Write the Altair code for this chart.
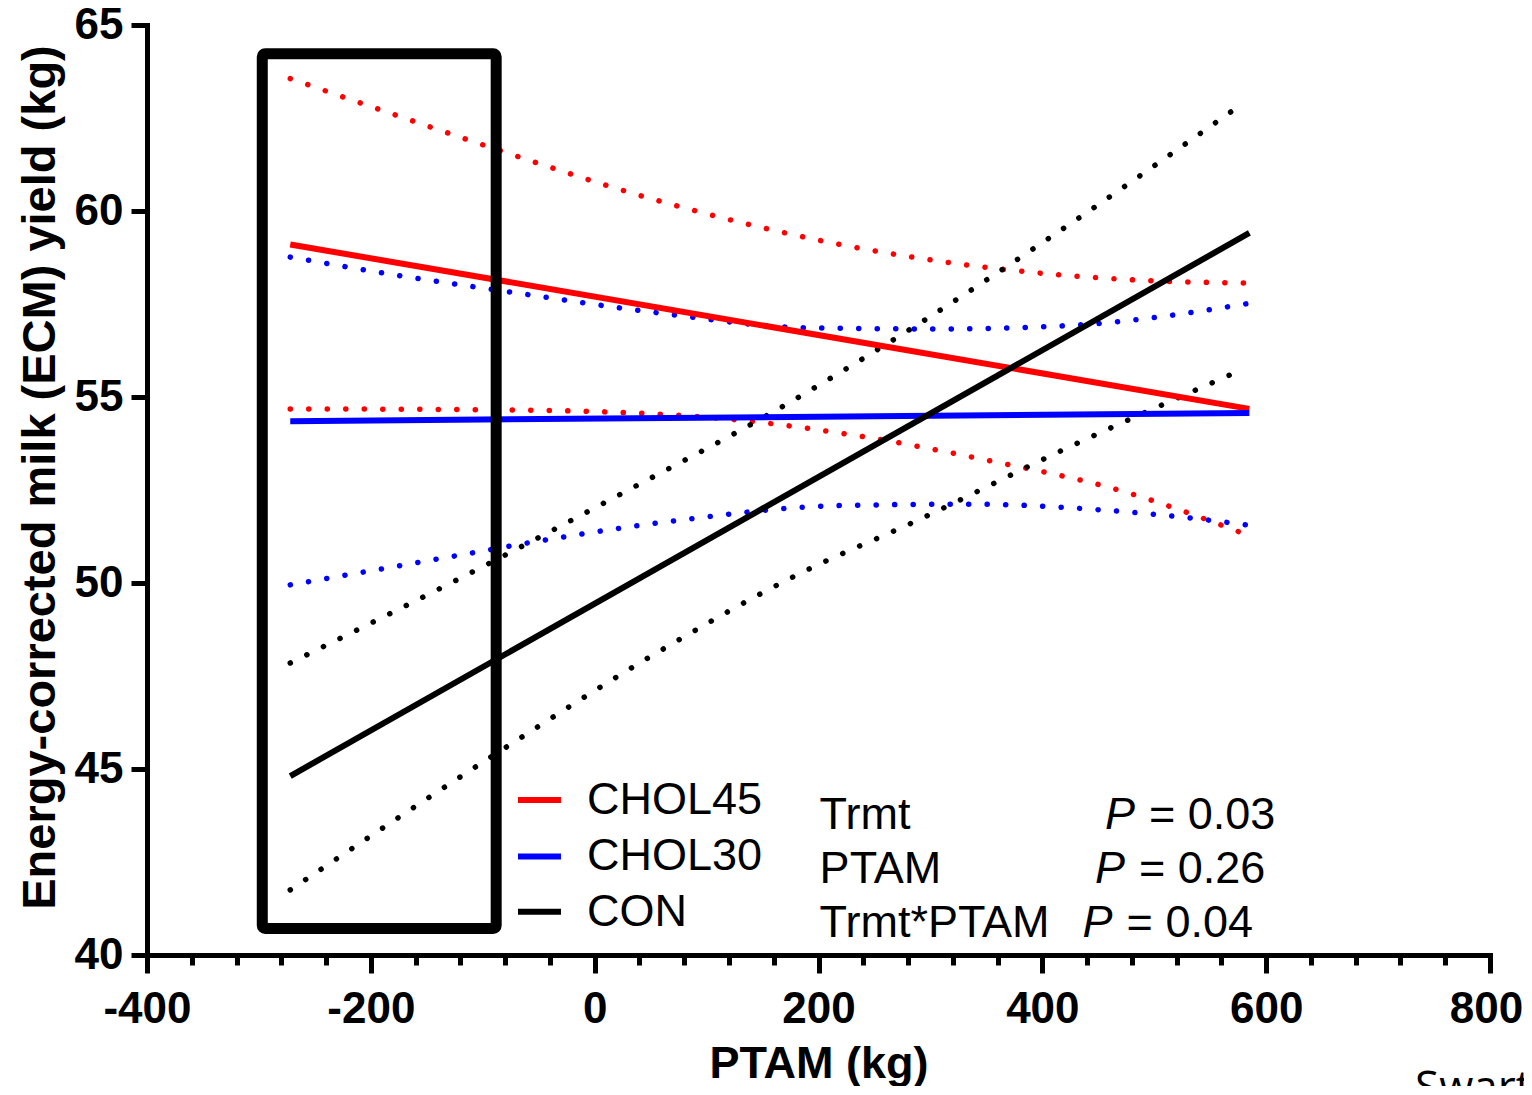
import altair as alt
import pandas as pd

# ---------------- data ----------------
series = ["CHOL45", "CHOL30", "CON"]
colors = ["#FF0000", "#0000FF", "#000000"]

fit_x = [-272, 585]
fit_y = {
    "CHOL45": [59.10, 54.68],
    "CHOL30": [54.35, 54.57],
    "CON": [44.81, 59.41],
}

chol45_upper_x = [-272, -178, -99, 60, 221, 354, 468, 585]
chol45_upper_y = [63.56, 62.58, 61.77, 60.25, 59.09, 58.47, 58.17, 58.06]
chol45_lower_x = [-272, -73, 94, 226, 354, 468, 585]
chol45_lower_y = [54.68, 54.65, 54.47, 54.00, 53.28, 52.50, 51.27]

chol30_upper_x = [-272, -178, -75, 57, 190, 308, 423, 571, 585]
chol30_upper_y = [58.76, 58.28, 57.82, 57.26, 56.86, 56.83, 56.92, 57.45, 57.52]
chol30_lower_x = [-272, -98, -59, 71, 217, 336, 455, 570, 585]
chol30_lower_y = [49.95, 50.87, 51.08, 51.67, 52.08, 52.12, 51.96, 51.61, 51.55]

con_upper_x = [-272, -98, 32, 156, 285, 409, 572]
con_upper_y = [47.85, 50.47, 52.53, 54.54, 56.88, 59.33, 62.74]
con_lower_x = [-272, -81, 43, 187, 286, 420, 572]
con_lower_y = [41.75, 45.55, 47.90, 50.31, 51.65, 53.60, 55.65]

box_x = [-297]
box_x2 = [-88]
box_y = [64.23]
box_y2 = [40.71]

legend_x = [-68.5]
legend_x2 = [-30.1]
legend_label_x = [-6.9]
legend_row_y = [44.17, 42.65, 41.16]

stat_terms = ["Trmt", "PTAM", "Trmt*PTAM"]
stat_values = ["= 0.03", "= 0.26", "= 0.04"]
stat_row_y = [43.76, 42.32, 40.86]
stat_term_x = [201, 201, 201]
stat_p_x = [456, 447, 436]

credit_text = ["Swart"]
credit_x = [733]
credit_y = [36.05]

x_major = [-400, -200, 0, 200, 400, 600, 800]
x_minor_step = 20
y_ticks = [40, 45, 50, 55, 60, 65]

# ---------------- tables ----------------
fit_rows = []
for s in series:
    for xv, yv in zip(fit_x, fit_y[s]):
        fit_rows.append({"series": s, "x": xv, "y": yv})
fit_df = pd.DataFrame(fit_rows)

band_rows = []
bands = {
    ("CHOL45", "upper"): (chol45_upper_x, chol45_upper_y),
    ("CHOL45", "lower"): (chol45_lower_x, chol45_lower_y),
    ("CHOL30", "upper"): (chol30_upper_x, chol30_upper_y),
    ("CHOL30", "lower"): (chol30_lower_x, chol30_lower_y),
    ("CON", "upper"): (con_upper_x, con_upper_y),
    ("CON", "lower"): (con_lower_x, con_lower_y),
}
for (s, b), (xs, ys) in bands.items():
    for xv, yv in zip(xs, ys):
        band_rows.append({"series": s, "band": s + "_" + b, "x": xv, "y": yv})
band_df = pd.DataFrame(band_rows)

box_df = pd.DataFrame({"x": box_x, "x2": box_x2, "y": box_y, "y2": box_y2})
legend_df = pd.DataFrame({
    "series": series, "y": legend_row_y,
    "x": legend_x * 3, "x2": legend_x2 * 3, "lx": legend_label_x * 3,
})
stat_df = pd.DataFrame({
    "term": stat_terms, "val": stat_values, "y": stat_row_y,
    "tx": stat_term_x, "px": stat_p_x, "p": ["P", "P", "P"],
})
credit_df = pd.DataFrame({"t": credit_text, "x": credit_x, "y": credit_y})

FONT = "Liberation Sans"

xscale = alt.Scale(domain=[-400, 800], nice=False, zero=False)
yscale = alt.Scale(domain=[40, 65], nice=False, zero=False)
cscale = alt.Scale(domain=series, range=colors)

major_test = "indexof([" + ",".join(str(v) for v in x_major) + "], datum.value) >= 0"
last_test = "datum.value === " + str(x_major[-1])

x_axis = alt.Axis(
    values=list(range(x_major[0], x_major[-1] + 1, x_minor_step)),
    labelExpr="(" + major_test + ") ? ('' + datum.value) : ''",
    tickSize={"condition": {"test": major_test, "value": 18}, "value": 10},
    labelOffset={"condition": {"test": last_test, "value": -4}, "value": 0},
    tickWidth=5, tickColor="black", domainWidth=5, domainColor="black", domainCap="square",
    labelFont=FONT, labelFontSize=44, labelFontWeight="bold", labelColor="black",
    labelPadding=14, labelOverlap=False, labelFlush=False,
    title="PTAM (kg)", titleFont=FONT, titleFontSize=45, titleFontWeight="bold",
    titleColor="black", titlePadding=10, grid=False,
)
y_axis = alt.Axis(
    values=y_ticks,
    tickSize=16, tickWidth=5, tickColor="black", domainWidth=5, domainColor="black",
    domainCap="square",
    labelFont=FONT, labelFontSize=44, labelFontWeight="bold", labelColor="black",
    labelPadding=8, labelOverlap=False, labelFlush=False,
    title="Energy-corrected milk (ECM) yield (kg)", titleFont=FONT, titleFontSize=47,
    titleFontWeight="bold", titleColor="black", titlePadding=10, titleY=452, grid=False,
)

fit = alt.Chart(fit_df).mark_line(strokeWidth=6, strokeCap="butt").encode(
    x=alt.X("x:Q", scale=xscale, axis=x_axis),
    y=alt.Y("y:Q", scale=yscale, axis=y_axis),
    color=alt.Color("series:N", scale=cscale, legend=None),
)

band = alt.Chart(band_df).mark_line(
    strokeWidth=5.5, strokeDash=[0.1, 18.4], strokeCap="round", interpolate="monotone"
).encode(
    x="x:Q", y="y:Q",
    color=alt.Color("series:N", scale=cscale, legend=None),
    detail="band:N",
)

box = alt.Chart(box_df).mark_rect(
    fillOpacity=0, stroke="black", strokeWidth=11, cornerRadius=3, strokeJoin="round"
).encode(x="x:Q", x2="x2:Q", y="y:Q", y2="y2:Q")

leg_lines = alt.Chart(legend_df).mark_rule(strokeWidth=6).encode(
    x="x:Q", x2="x2:Q", y="y:Q",
    color=alt.Color("series:N", scale=cscale, legend=None),
)
leg_text = alt.Chart(legend_df).mark_text(
    align="left", baseline="middle", font=FONT, fontSize=45, color="black"
).encode(x="lx:Q", y="y:Q", text="series:N")

terms = alt.Chart(stat_df).mark_text(
    align="left", baseline="middle", font=FONT, fontSize=45, color="black"
).encode(x="tx:Q", y="y:Q", text="term:N")

pletter = alt.Chart(stat_df).mark_text(
    align="left", baseline="middle", font=FONT, fontSize=45, fontStyle="italic", color="black"
).encode(x="px:Q", y="y:Q", text="p:N")

pvals = alt.Chart(stat_df).mark_text(
    align="left", baseline="middle", font=FONT, fontSize=45, color="black", dx=44
).encode(x="px:Q", y="y:Q", text="val:N")

credit = alt.Chart(credit_df).mark_text(
    align="left", baseline="alphabetic", font="Open Sans", fontSize=44, color="black"
).encode(x="x:Q", y="y:Q", text="t:N")

chart = alt.layer(band, fit, box, leg_lines, leg_text, terms, pletter, pvals, credit).properties(
    width=1343, height=930,
    padding={"left": 139, "top": 17, "right": 34, "bottom": 131},
    autosize=alt.AutoSizeParams(type="none"),
    background="white",
).configure_view(stroke=None)

chart.save("out.html", embed_options={"renderer": "svg", "actions": False})
